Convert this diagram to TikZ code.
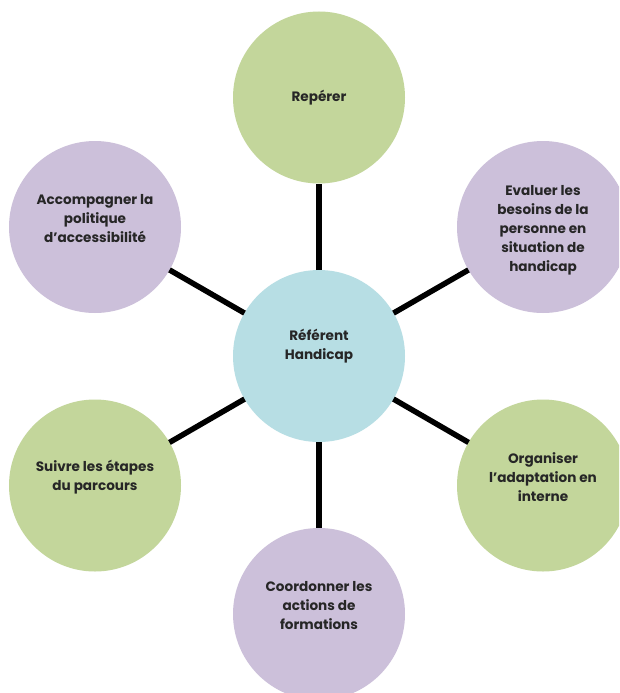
\documentclass[tikz,border=0pt]{standalone}
\usepackage{fontspec}
\setmainfont{Poppins}
\definecolor{cgreen}{RGB}{195,214,155}
\definecolor{cpurple}{RGB}{204,192,218}
\definecolor{cblue}{RGB}{183,222,228}
\begin{document}
\begin{tikzpicture}[x=1pt,y=-1pt,
  bubble/.style={circle,minimum size=172pt,inner sep=0pt,outer sep=0pt},
  txt/.style={align=center,font=\fontsize{13.6}{19}\selectfont\bfseries,text=black!85,inner sep=0pt},
  link/.style={line width=5.5pt,black}]
\clip (0,0) rectangle (619,693);
\fill[white] (0,0) rectangle (619,693);
\node[bubble,fill=cblue]   (c)  at (319,356) {};
\node[bubble,fill=cgreen]  (n1) at (319,97.5) {};
\node[bubble,fill=cpurple] (n2) at (543,227) {};
\node[bubble,fill=cgreen]  (n3) at (543,485.5) {};
\node[bubble,fill=cpurple] (n4) at (319,614) {};
\node[bubble,fill=cgreen]  (n5) at (95,485.5) {};
\node[bubble,fill=cpurple] (n6) at (95,227) {};
\foreach \n in {n1,n2,n3,n4,n5,n6} \draw[link] (c) -- (\n);
\node[txt] (tc) at (319,346) {Référent\\Handicap};
\node[txt] (t1) at (319,98) {Repérer};
\node[txt] (t2) at (543,230) {Evaluer les\\besoins de la\\personne en\\situation de\\handicap};
\node[txt] (t3) at (543,477) {Organiser\\l’adaptation en\\interne};
\node[txt] (t4) at (319,606) {Coordonner les\\actions de\\formations};
\node[txt] (t5) at (95,477) {Suivre les étapes\\du parcours};
\node[txt] (t6) at (95,219) {Accompagner la\\politique\\d’accessibilité};
\end{tikzpicture}
\end{document}
